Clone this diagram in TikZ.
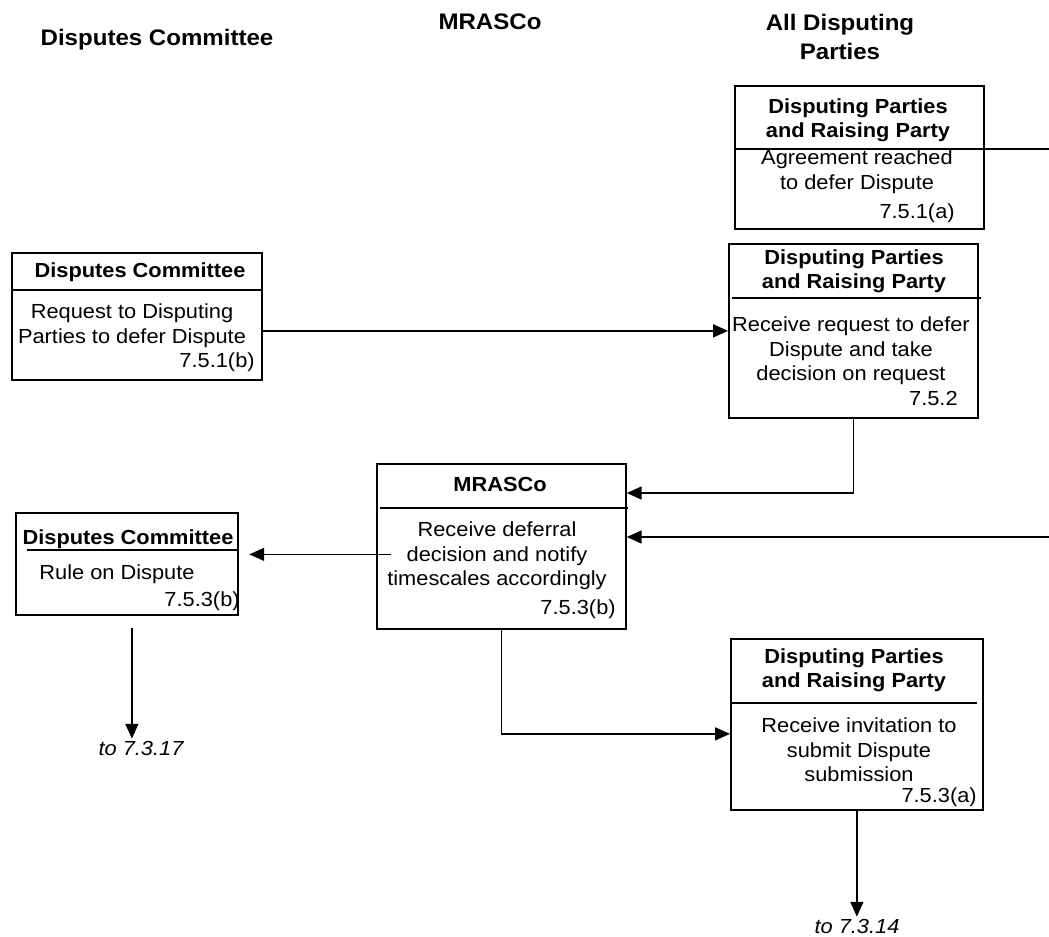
\documentclass[tikz,border=0pt]{standalone}
\usepackage{fontspec}
\setmainfont{Liberation Sans}[FakeStretch=1.07]
\usetikzlibrary{positioning, calc, arrows.meta}

\tikzset{
  box/.style 2 args={draw, line width=1pt, anchor=north west, inner sep=0pt,
    minimum width=#1*0.02cm, minimum height=#2*0.02cm},
  hd/.style={font=\bfseries\fontsize{12.8}{16.5}\selectfont, align=center, inner sep=0pt},
  ttl/.style={font=\bfseries\fontsize{11.6}{13.8}\selectfont, align=center, inner sep=0pt},
  txt/.style={font=\fontsize{11.6}{14}\selectfont, align=center, inner sep=0pt},
  num/.style={font=\fontsize{11.6}{13.5}\selectfont, anchor=east, inner sep=0pt},
  goto/.style={font=\itshape\fontsize{11.6}{13.5}\selectfont, inner sep=1pt},
  sep/.style={line width=0.9pt},
  arr/.style={-{Triangle[length=8.5pt,width=7.4pt]}, line width=0.9pt}
}

\begin{document}
\begin{tikzpicture}[x=0.02cm, y=-0.02cm]
   \useasboundingbox (0,0) rectangle (1049,937);

   % column heads
   \node[hd] (hdc) at (157,40) {Disputes Committee};
   \node[hd] (hmr) at (490,22) {MRASCo};
   \node[hd] (hdp) at (840,37) {All Disputing\\Parties};

   % boxes
   \node[box={249}{143}] (agree)  at (734,85)  {};
   \node[box={250}{127}] (req)    at (11,252)  {};
   \node[box={249}{174}] (recv)   at (728,243) {};
   \node[box={249}{165}] (mras)   at (376,463) {};
   \node[box={222}{102}] (rule)   at (15,512)  {};
   \node[box={252}{171}] (invite) at (730,638) {};

   % titles
   \node[ttl] (agreeT)  at (858,120) {Disputing Parties\\and Raising Party};
   \node[ttl] (reqT)    at (140,272) {Disputes Committee};
   \node[ttl] (recvT)   at (854,271) {Disputing Parties\\and Raising Party};
   \node[ttl] (mrasT)   at (500,484) {MRASCo};
   \node[ttl] (ruleT)   at (128,539) {Disputes Committee};
   \node[ttl] (inviteT) at (854,670) {Disputing Parties\\and Raising Party};

   % dividers
   \coordinate (offA) at (1049,149);
   \draw[sep] (agree.west |- offA) -- (offA);
   \draw[sep] ($(req.north west)+(0,38)$) -- ++(250,0);
   \draw[sep] ($(recv.north west)+(4,55)$) -- ++(249,0);
   \draw[sep] ($(mras.north west)+(4,45)$) -- ++(248,0);
   \draw[sep] ($(rule.north west)+(12,38)$) -- ++(210,0);
   \draw[sep] ($(invite.north west)+(0,65)$) -- ++(247,0);

   % texts
   \node[txt] (agreeB)  at (857,172) {Agreement reached\\to defer Dispute};
   \node[num] at (955,213) {7.5.1(a)};
   \node[txt] (reqB)    at (132,326) {Request to Disputing\\Parties to defer Dispute};
   \node[num] at (255,362) {7.5.1(b)};
   \node[txt] (recvB)   at (851,351) {Receive request to defer\\Dispute and take\\decision on request};
   \node[num] at (958,398) {7.5.2};
   \node[txt] (mrasB)   at (497,556) {Receive deferral\\decision and notify\\timescales accordingly};
   \node[num] at (616,609) {7.5.3(b)};
   \node[txt] (ruleB)   at (117,574) {Rule on Dispute};
   \node[num] at (240,601) {7.5.3(b)};
   \node[txt] (inviteB) at (859,750) {Receive invitation to\\submit Dispute\\submission};
   \node[num] at (977,797) {7.5.3(a)};

   \node[goto] (to17) at (141,748) {to 7.3.17};
   \node[goto] (to14) at (857,926) {to 7.3.14};

   % flows
   \coordinate (offB) at (1049,537);
   \coordinate (mrasW) at ($(mras.west)+(15,8)$);
   \coordinate (ruleS) at ($(rule.south)+(5,12)$);
   \draw[arr] (req.east |- recv.west) -- (recv.west);
   \draw[arr] (recv.south) |- ($(mras.north east)!0.18!(mras.south east)$);
   \draw[arr] (offB) -- (mras.east |- offB);
   \draw[arr, line width=0.6pt, shorten >=6] (mrasW) -- (rule.east |- mrasW);
   \draw[arr] (ruleS) -- (ruleS |- to17.north);
   \draw[arr] (mras.south) |- ($(invite.north west)!0.555!(invite.south west)$);
   \draw[arr] (invite.south) -- (invite.south |- to14.north);
\end{tikzpicture}
\end{document}
